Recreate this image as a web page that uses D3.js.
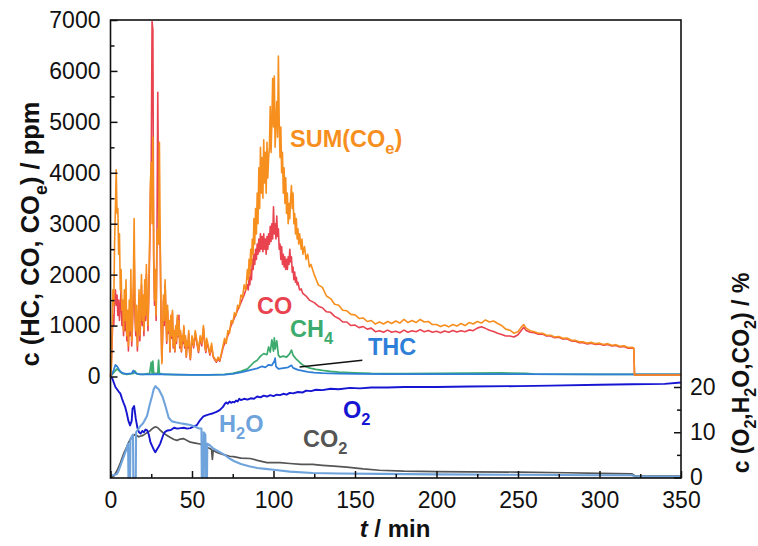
<!DOCTYPE html>
<html><head><meta charset="utf-8">
<script src="https://cdn.jsdelivr.net/npm/d3@7"></script>
<style>body{margin:0;background:#fff;} text{font-family:"Liberation Sans",Arial,sans-serif;}</style>
</head><body><svg id="c" width="758" height="546"></svg>
<script>
// ---- data: [time (min), value] ----
const sumCOe = [[0,0],[0.5,150],[1,900],[1.5,1700],[2,1400],[2.5,2600],[3,3300],[3.5,4060],[4,3200],[4.5,3300],[5,2400],[5.5,2800],[6,1700],[6.5,2100],[7,1300],[7.5,1500],[8,900],[8.5,1700],[9,1100],[9.5,1900],[10,800],[10.5,1300],[11,600],[11.5,1500],[12,900],[12.5,2100],[13,700],[13.5,1200],[14,1800],[14.5,3100],[15,1500],[15.5,900],[16,1400],[16.5,600],[17,1100],[17.5,1700],[18,800],[18.5,1300],[19,2000],[19.5,1100],[20,1600],[20.5,900],[21,1900],[21.5,1200],[22,2200],[22.5,1400],[23,1000],[23.5,1800],[24,2600],[24.5,3800],[25,4200],[25.5,3000],[26,4700],[26.5,2400],[27,1500],[27.5,2100],[28,1200],[28.5,2800],[29,2900],[29.5,2600],[30,4600],[30.5,2700],[31,1200],[31.5,250],[32,900],[32.5,1600],[33,1100],[33.5,1900],[34,1300],[34.5,700],[35,1400],[35.5,900],[36,1100],[36.5,500],[37,1200],[37.5,800],[38,1300],[38.5,600],[39,900],[39.5,500],[40,1000],[40.5,700],[41,1200],[41.5,800],[42,1100],[42.5,600],[43,900],[43.5,500],[44,800],[44.5,700],[45,1000],[45.5,600],[46,800],[46.5,400],[47,700],[47.5,600],[48,900],[48.5,500],[49,350],[49.5,600],[50,800],[51,600],[52,900],[53,700],[54,500],[55,800],[56,650],[57,1000],[58,600],[58.5,500],[59,750],[60,600],[61,450],[62,650],[63,400],[64,350],[65,300],[66,380],[67,320],[68,450],[69,600],[70,750],[71,650],[72,900],[73,850],[74,1100],[75,1050],[76,1250],[77,1200],[78,1400],[79,1350],[80,1600],[81,1550],[82,1800],[83,1700],[84,2100],[84.5,1900],[85,2300],[85.5,2000],[86,2500],[86.5,2200],[87,2700],[87.5,2400],[88,3100],[88.5,2600],[89,3300],[89.5,2800],[90,3600],[90.5,3000],[91,4100],[91.5,3300],[92,4500],[92.5,3600],[93,4300],[93.5,3500],[94,4650],[94.5,3800],[95,4400],[95.5,3600],[96,4600],[96.5,3900],[97,4300],[97.5,4500],[98,5300],[98.5,4400],[99,5000],[99.5,5850],[100,4900],[100.5,5900],[101,4500],[101.5,5000],[102,5400],[102.5,4700],[103,6290],[103.5,5000],[104,4300],[104.5,4900],[105,4000],[105.5,4400],[106,3600],[106.5,4100],[107,3400],[107.5,3900],[108,3200],[108.5,3600],[109,3000],[109.5,3400],[110,3100],[110.5,3500],[111,3750],[111.5,3300],[112,3600],[112.5,3000],[113,3200],[113.5,2800],[114,3100],[114.5,2700],[115,2900],[115.5,2600],[116,2800],[117,2500],[117.5,2700],[118,2400],[119,2550],[120,2300],[121,2400],[122,2150],[123,2200],[125,2000],[127.5,1800],[130,1750],[132.5,1580],[135,1530],[137.5,1420],[140,1400],[142.5,1300],[145,1290],[147.5,1220],[150,1210],[152.5,1140],[155,1150],[157.5,1080],[160,1100],[162.5,1030],[165,1070],[167.5,1030],[170,1080],[172.5,1040],[175,1090],[177.5,1050],[180,1120],[182.5,1060],[185,1100],[187.5,1060],[190,1120],[192.5,1070],[195,1080],[197.5,1020],[200,1020],[202.5,980],[205,1010],[207.5,975],[210,1020],[212.5,990],[215,1040],[217.5,1000],[220,1060],[222.5,1030],[225,1080],[227.5,1050],[230,1110],[232.5,1070],[235,1090],[237.5,1040],[240,1000],[242.5,930],[245,910],[247.5,850],[250,880],[252,970],[253.5,1020],[255,950],[257.5,900],[260,880],[262.5,850],[265,850],[267.5,810],[270,810],[272.5,775],[275,785],[277.5,750],[280,755],[282.5,715],[285,710],[287.5,680],[290,680],[292.5,655],[295,670],[297.5,645],[300,655],[302.5,630],[305,645],[307.5,615],[310,625],[312.5,595],[315,605],[317.5,570],[320,575],[321,560],[321.5,30],[350,30]];

const coPpm = [[0,0],[0.5,200],[1,700],[1.5,1200],[2,1000],[2.5,1500],[3,1700],[3.5,1400],[4,1600],[4.5,1200],[5,1500],[5.5,1100],[6,1400],[6.5,1700],[7,1000],[7.5,1300],[8,800],[8.5,1500],[9,900],[9.5,1600],[10,700],[10.5,1200],[11,500],[11.5,1300],[12,800],[12.5,1700],[13,600],[13.5,1000],[14,1500],[14.5,2500],[15,1200],[15.5,800],[16,1200],[16.5,500],[17,1000],[17.5,1500],[18,700],[18.5,1100],[19,1800],[19.5,1000],[20,1400],[20.5,800],[21,1700],[21.5,1100],[22,2000],[22.5,1300],[23,900],[23.5,1600],[24,2400],[24.5,3600],[25,4200],[25.5,6970],[26,6800],[26.5,2300],[27,1400],[27.5,1900],[28,1100],[28.5,2600],[29,5580],[29.5,3400],[30,2900],[30.5,2500],[31,1100],[31.5,300],[32,800],[32.5,1500],[33,1000],[33.5,1800],[34,1200],[34.5,650],[35,1300],[35.5,850],[36,1050],[36.5,480],[37,1150],[37.5,750],[38,1250],[38.5,560],[39,850],[39.5,480],[40,950],[40.5,650],[41,1150],[41.5,780],[42,1200],[42.5,560],[43,850],[43.5,480],[44,760],[44.5,650],[45,950],[45.5,560],[46,760],[46.5,380],[47,650],[47.5,560],[48,850],[48.5,470],[49,330],[49.5,560],[50,760],[51,560],[52,850],[53,650],[54,470],[55,760],[56,600],[57,950],[58,560],[58.5,470],[59,700],[60,560],[61,420],[62,600],[63,380],[64,330],[65,280],[66,350],[67,300],[68,420],[69,560],[70,650],[72,800],[74,1000],[76,1150],[78,1300],[80,1450],[82,1600],[84,1800],[84.5,1700],[85,1950],[85.5,1800],[86,2100],[86.5,1900],[87,2300],[87.5,2100],[88,2400],[88.5,2200],[89,2500],[89.5,2300],[90,2600],[90.5,2400],[91,2700],[91.5,2450],[92,2800],[92.5,2500],[93,2750],[93.5,2450],[94,2800],[94.5,2500],[95,2700],[95.5,2400],[96,2750],[96.5,2500],[97,2800],[97.5,2600],[98,2950],[98.5,2650],[99,3000],[99.5,2700],[100,3330],[100.5,2800],[101,3000],[101.5,2700],[102,3150],[102.5,2750],[103,2900],[103.5,2500],[104,2600],[104.5,2300],[105,2550],[105.5,2200],[106,2400],[106.5,2150],[107,2350],[107.5,2100],[108,2300],[108.5,2100],[109,2350],[109.5,2200],[110,2500],[110.5,2250],[111,2350],[111.5,2050],[112,2150],[112.5,1900],[113,2050],[113.5,1850],[114,1950],[114.5,1800],[115,1850],[116,1700],[117,1720],[118,1630],[120,1580],[122,1500],[125,1450],[127.5,1380],[130,1350],[132.5,1270],[135,1260],[137.5,1180],[140,1140],[142.5,1070],[145,1070],[147.5,1000],[150,1010],[152.5,960],[155,980],[157.5,930],[160,950],[162.5,880],[165,900],[167.5,870],[170,910],[172.5,870],[175,890],[177.5,860],[180,910],[182.5,870],[185,900],[187.5,880],[190,920],[192.5,880],[195,905],[197.5,870],[200,890],[202.5,860],[205,895],[207.5,870],[210,905],[212.5,875],[215,900],[217.5,880],[220,915],[222.5,900],[225,950],[227.5,975],[230,945],[232.5,910],[235,885],[237.5,850],[240,825],[242.5,795],[245,795],[247.5,775],[250,820],[252,905],[253.5,965],[255,905],[257.5,870],[260,860],[262.5,830],[265,835],[267.5,795],[270,795],[272.5,760],[275,770],[277.5,735],[280,740],[282.5,700],[285,695],[287.5,665],[290,665],[292.5,640],[295,655],[297.5,630],[300,640],[302.5,615],[305,630],[307.5,600],[310,610],[312.5,580],[315,590],[317.5,555],[320,560],[321,550],[321.5,30],[350,30]];

const ch4Ppm = [[0,0],[2,80],[4,150],[5,120],[7,60],[10,40],[14,60],[15,110],[16,50],[20,40],[24,60],[25,280],[25.5,60],[26,300],[26.5,60],[29,60],[29.5,320],[30,60],[33,40],[40,35],[50,30],[60,30],[65,35],[70,40],[75,60],[80,100],[84,150],[88,280],[90,320],[92,400],[94,450],[96,430],[97,580],[98,480],[99,720],[100,500],[100.5,760],[101,540],[102,700],[103,420],[104,380],[106,400],[108,380],[110,450],[111,520],[112,420],[114,340],[116,280],[118,225],[120,190],[123,160],[126,140],[130,120],[135,100],[140,85],[150,70],[160,60],[180,55],[200,60],[220,65],[240,70],[255,60],[260,45],[300,40],[320,40],[350,40]];

const thcPpm = [[0,0],[1,50],[2,130],[3,230],[4,200],[5,150],[6,100],[8,60],[10,50],[13,60],[14,120],[15,70],[18,40],[25,40],[30,45],[40,35],[50,30],[60,30],[70,35],[75,50],[80,80],[85,120],[90,160],[93,200],[95,180],[97,230],[99,220],[100.5,300],[101,360],[101.5,200],[103,150],[105,160],[107,170],[109,180],[111,220],[112,170],[115,130],[118,110],[121,90],[125,75],[130,65],[140,55],[150,50],[170,45],[200,45],[250,45],[300,40],[350,40]];

const o2Pct = [[0,22.2],[1,22],[2,21],[3,20],[4,19.5],[5,19],[6,18.6],[7,17.5],[8,16.5],[9,15.6],[10,14.2],[11,12.5],[12,11.5],[13,12.5],[13.5,15.2],[14.5,15.8],[15.5,13],[16.5,11],[17.5,10],[18.5,9.7],[19.5,10.3],[20.5,10],[21.5,10.6],[22.5,10.4],[23.5,9.5],[24.5,7.8],[25.5,7],[26.5,6.2],[27.5,5.6],[28.5,6.2],[29.5,6.8],[30.5,7.5],[31.5,8.5],[32.5,9.5],[33.5,10.1],[35,10.4],[37,10.5],[39,11],[41,10.8],[43,10.9],[45,11],[47,10.8],[49,10.9],[51,11.3],[53,11.6],[55,12.7],[57,13.5],[59,13.8],[61,14],[63,14.2],[65,14.5],[67,14.9],[69,15.6],[70,16.2],[71,16.6],[72,16.3],[73,16.8],[74,16.5],[75,16.7],[76,16.6],[77,17],[78,16.8],[79,17.4],[80,17.1],[82,17.4],[84,17.2],[86,17.5],[88,17.4],[90,17.9],[92,17.7],[94,18.1],[96,17.9],[98,18.2],[100,18],[102,18.3],[104,18.2],[106,18.5],[108,18.3],[110,18.7],[112,18.6],[115,18.9],[118,18.8],[120,19.2],[123,19.1],[126,19.4],[130,19.3],[135,19.6],[140,19.5],[147,19.8],[153,19.7],[160,19.9],[170,19.9],[180,20],[200,20],[220,20.1],[250,20.2],[270,20.3],[300,20.5],[320,20.6],[340,20.7],[350,21]];

const h2oPct = [[0,0.5],[2,0.5],[4,0.8],[5,1.5],[6,2.5],[7,3.5],[8,4.5],[9,5.5],[10,6.5],[10.8,7.5],[11,0],[12,0],[12.2,8.5],[13.8,9.5],[14,0],[15.5,0],[15.7,10],[16.5,10.4],[18.4,11.4],[20,12],[22.4,13.6],[24,16],[25.5,18],[26.5,19.5],[27.6,20.2],[28.5,19.8],[29.6,19.5],[31,18.5],[32,17.8],[33.7,15.8],[35.7,13.2],[37.7,12.4],[40,12.2],[42.8,12],[46,11.8],[49,11.6],[52,11.2],[54,10.9],[55.8,10.8],[56,0],[57,0],[57.2,10],[58.2,9.5],[58.4,0],[59.2,0],[59.4,7.5],[61,7.1],[63,6.4],[67,5.6],[70,5],[73,4.2],[76,3.6],[80,3],[85,2.5],[90,2.1],[95,1.9],[100,1.7],[110,1.3],[124,1],[140,0.9],[165,0.8],[200,0.7],[250,0.6],[300,0.5],[320,0.5],[322,0.2],[350,0.2]];

const co2Pct = [[0,0],[2,0.3],[4,1.5],[6,3.2],[8,5.2],[10,6.8],[11.2,7.8],[12,8.3],[14,9.3],[15,9.5],[17.3,9],[20,9.3],[22,9.8],[24.5,10.4],[26,10.9],[27.6,11.2],[29,11],[30.6,10.4],[32.5,9.8],[34.7,9.3],[37,8.8],[39,8.4],[40.8,8.2],[42.8,8.5],[44.7,8.6],[47,8.2],[49,7.8],[52,7.6],[55,7.4],[57,7],[59,6.7],[61,6.4],[62,6.2],[62.5,4],[63,6],[65,5.6],[67,5.3],[70,5],[73,4.7],[75.5,4.6],[80,4.3],[85.7,4.2],[90,3.8],[96,3.3],[104,3.3],[110,3.1],[117,2.9],[124,2.9],[130,2.7],[137,2.5],[145,2.3],[155,1.9],[165,1.6],[180,1.4],[200,1.3],[220,1.25],[250,1.2],[280,1.05],[300,0.9],[320,0.8],[322,0.3],[350,0.3]];

const xTicks = [0,50,100,150,200,250,300,350];
const yLTicks = [0,1000,2000,3000,4000,5000,6000,7000];
const yRTicks = [0,10,20];

// ---- layout ----
const svg = d3.select('#c');
const x = d3.scaleLinear().domain([0,350]).range([110.5,681]);
const yL = d3.scaleLinear().domain([0,7000]).range([376.5,20]);
const yR = d3.scaleLinear().domain([0,20]).range([477.5,387]);
const FS = 23;

const lineL = d3.line().x(d=>x(d[0])).y(d=>yL(d[1]));
const lineR = d3.line().x(d=>x(d[0])).y(d=>yR(d[1]));

function draw(data, gen, color, w){
  svg.append('path').datum(data).attr('d',gen).attr('fill','none')
    .attr('stroke',color).attr('stroke-width',w).attr('stroke-linejoin','round');
}
// lower panel
draw(co2Pct, lineR, '#555555', 1.7);
draw(o2Pct, lineR, '#1515d2', 1.9);
draw(h2oPct, lineR, '#6fa3dc', 2.1);
// upper panel
draw(ch4Ppm, lineL, '#3dab6e', 1.7);
draw(thcPpm, lineL, '#2f7fd8', 1.7);
draw(coPpm, lineL, '#e8434f', 1.6);
draw(sumCOe, lineL, '#f78f1e', 1.6);

// frame
svg.append('rect').attr('x',110.5).attr('y',20).attr('width',681-110.5).attr('height',478-20)
  .attr('fill','none').attr('stroke','#111').attr('stroke-width',1.6);

function styleAxis(g){
  g.select('.domain').remove();
  g.selectAll('.tick line').attr('stroke','#111').attr('stroke-width',1.5);
  g.selectAll('text').attr('font-size',FS).attr('fill','#111')
    .attr('font-family','"Liberation Sans",Arial,sans-serif');
}
// left axis
svg.append('g').attr('transform','translate(110.5,0)')
  .call(d3.axisLeft(yL).tickValues(yLTicks).tickSize(-7).tickPadding(10).tickFormat(d3.format('d'))).call(styleAxis);
svg.append('g').attr('transform','translate(110.5,0)')
  .call(d3.axisLeft(yL).tickValues(d3.range(500,7000,1000)).tickSize(-4).tickFormat('')).call(styleAxis);
// right axis
svg.append('g').attr('transform','translate(681,0)')
  .call(d3.axisRight(yR).tickValues(yRTicks).tickSize(-7).tickPadding(9)).call(styleAxis);
svg.append('g').attr('transform','translate(681,0)')
  .call(d3.axisRight(yR).tickValues([5,15]).tickSize(-4).tickFormat('')).call(styleAxis);
// bottom axis
svg.append('g').attr('transform','translate(0,478)')
  .call(d3.axisBottom(x).tickValues(xTicks).tickSize(-7).tickPadding(14)).call(styleAxis);
svg.append('g').attr('transform','translate(0,478)')
  .call(d3.axisBottom(x).tickValues(d3.range(25,350,50)).tickSize(-4).tickFormat('')).call(styleAxis);

// text helper: parts = [[string, isSub, italic], ...]
function label(px, py, parts, color, size, opts={}){
  const t = svg.append('text').attr('x',px).attr('y',py).attr('fill',color)
    .attr('font-size',size).attr('font-weight','bold');
  if(opts.anchor) t.attr('text-anchor',opts.anchor);
  if(opts.transform) t.attr('transform',opts.transform).attr('x',0).attr('y',0);
  let sub=false;
  parts.forEach(p=>{
    const s = t.append('tspan').text(p[0]);
    if(p[1] && !sub){ s.attr('dy',size*0.3).attr('font-size',size*0.7); sub=true; }
    else if(p[1]){ s.attr('font-size',size*0.7); }
    else if(!p[1] && sub){ s.attr('dy',-size*0.3); sub=false; }
    if(p[2]) s.attr('font-style','italic');
  });
  return t;
}

const LS = 23.5;
label(290,147,[['SUM(CO'],['e',1],[')']],'#f78f1e',LS);
label(257,314,[['CO']],'#e8434f',LS);
label(290,337,[['CH'],['4',1]],'#3dab6e',LS);
label(368,355,[['THC']],'#2f7fd8',LS);
label(343,418,[['O'],['2',1]],'#1515d2',LS);
label(219,432,[['H'],['2',1],['O']],'#6fa3dc',LS);
label(303,447,[['CO'],['2',1]],'#555555',LS);

// leader line CH4/THC
const leader = [[116,185],[154.5,320]];
svg.append('path').datum(leader).attr('d',lineL).attr('stroke','#111').attr('stroke-width',1.5).attr('fill','none');

// axis titles
label(0,0,[['t',0,1],[' / min']],'#111',24,{anchor:'middle',transform:'translate(395,537)'});
label(0,0,[['c (HC, CO, CO'],['e',1],[') / ppm']],'#111',25.5,{anchor:'middle',transform:'translate(39,234) rotate(-90)'});
label(0,0,[['c (O'],['2',1],[',H'],['2',1],['O,CO'],['2',1],[') / %']],'#111',23,{anchor:'middle',transform:'translate(749,373) rotate(-90)'});
</script>
</body></html>
